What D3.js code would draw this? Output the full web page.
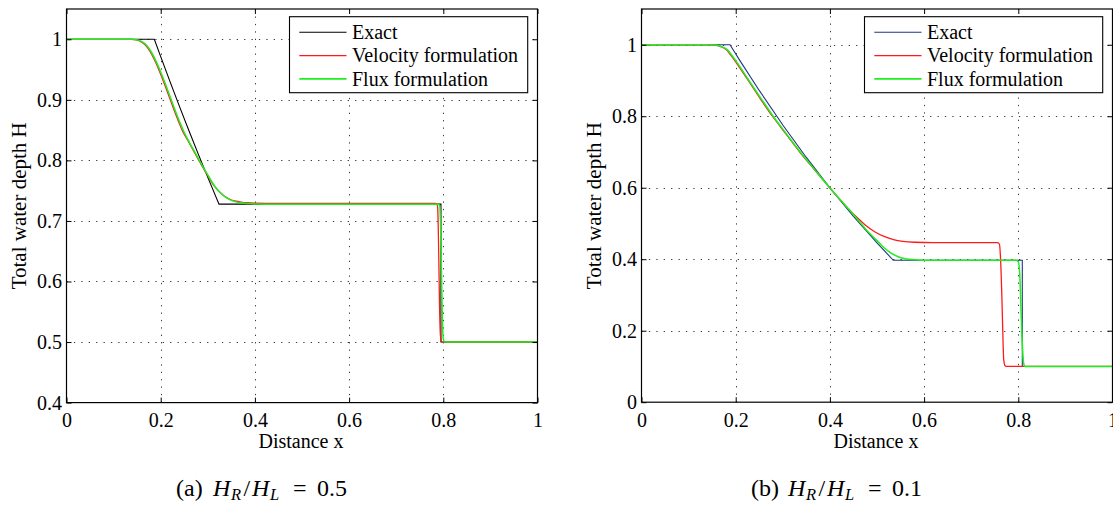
<!DOCTYPE html>
<html>
<head>
<meta charset="utf-8">
<script src="https://cdn.jsdelivr.net/npm/d3@7"></script>
<style>
  html, body { margin: 0; padding: 0; background: #fff; }
  svg { display: block; }
  text { font-family: "Liberation Serif", "Times New Roman", serif; fill: #000; }
</style>
</head>
<body>
<svg id="chart" width="1113" height="505"></svg>
<script>
// ---- data -------------------------------------------------------------
const seriesNames = ["Exact", "Velocity formulation", "Flux formulation"];

const xTicks = [0, 0.2, 0.4, 0.6, 0.8, 1];
const xTickLabels = ["0", "0.2", "0.4", "0.6", "0.8", "1"];

const yTicksA = [0.4, 0.5, 0.6, 0.7, 0.8, 0.9, 1];
const yTickLabelsA = ["0.4", "0.5", "0.6", "0.7", "0.8", "0.9", "1"];
const yTicksB = [0, 0.2, 0.4, 0.6, 0.8, 1];
const yTickLabelsB = ["0", "0.2", "0.4", "0.6", "0.8", "1"];

const xLabel = "Distance x";
const yLabel = "Total water depth H";

const captionTags = ["(a)", "(b)"];
const captionRatios = ["0.5", "0.1"];

// (a) H_R/H_L = 0.5 : [x, H]
const exactA = [
  [0, 1], [0.1865, 1], [0.20, 0.9713], [0.22, 0.9296], [0.24, 0.8888],
  [0.26, 0.8489], [0.28, 0.8099], [0.30, 0.7719], [0.3238, 0.7278],
  [0.795, 0.7278], [0.795, 0.5], [1, 0.5]
];
const velocityA = [
  [0, 1], [0.138, 1], [0.148, 0.999], [0.158, 0.996], [0.168, 0.990],
  [0.178, 0.979], [0.188, 0.964], [0.198, 0.946], [0.208, 0.926],
  [0.218, 0.905], [0.228, 0.884], [0.238, 0.864], [0.248, 0.846],
  [0.259, 0.831], [0.269, 0.817], [0.279, 0.803], [0.289, 0.789],
  [0.299, 0.776], [0.309, 0.763], [0.319, 0.753], [0.329, 0.745],
  [0.339, 0.739], [0.349, 0.735], [0.36, 0.7325], [0.37, 0.7312],
  [0.385, 0.730], [0.40, 0.7295], [0.45, 0.729], [0.782, 0.729],
  [0.786, 0.7285], [0.788, 0.722], [0.790, 0.66], [0.792, 0.56],
  [0.794, 0.51], [0.797, 0.5], [1, 0.5]
];
const fluxA = [
  [0, 1], [0.140, 1], [0.150, 0.999], [0.160, 0.996], [0.170, 0.990],
  [0.180, 0.979], [0.190, 0.964], [0.200, 0.946], [0.210, 0.926],
  [0.220, 0.905], [0.230, 0.884], [0.240, 0.864], [0.250, 0.846],
  [0.260, 0.831], [0.270, 0.817], [0.280, 0.803], [0.290, 0.789],
  [0.300, 0.776], [0.310, 0.763], [0.320, 0.752], [0.330, 0.744],
  [0.340, 0.738], [0.350, 0.734], [0.360, 0.7315], [0.370, 0.730],
  [0.385, 0.7288], [0.400, 0.728], [0.450, 0.7275], [0.788, 0.7275],
  [0.792, 0.726], [0.794, 0.70], [0.796, 0.62], [0.798, 0.54],
  [0.800, 0.505], [0.803, 0.5], [1, 0.5]
];

// (b) H_R/H_L = 0.1 : [x, H]
const exactB = [
  [0, 1], [0.1879, 1], [0.21, 0.9535], [0.25, 0.8722], [0.30, 0.7756],
  [0.35, 0.6847], [0.40, 0.5995], [0.45, 0.5199], [0.50, 0.4460],
  [0.5346, 0.397], [0.8085, 0.397], [0.8085, 0.1], [1, 0.1]
];
const velocityB = [
  [0, 1], [0.140, 1], [0.155, 0.999], [0.168, 0.995], [0.181, 0.985],
  [0.190, 0.970], [0.201, 0.950], [0.2265, 0.900], [0.2517, 0.850],
  [0.278, 0.800], [0.307, 0.750], [0.336, 0.700], [0.3675, 0.650],
  [0.3995, 0.600], [0.433, 0.550], [0.455, 0.520], [0.475, 0.496],
  [0.495, 0.477], [0.515, 0.464], [0.535, 0.455], [0.555, 0.450],
  [0.580, 0.4475], [0.620, 0.4465], [0.756, 0.4465], [0.760, 0.442],
  [0.762, 0.41], [0.765, 0.30], [0.767, 0.20], [0.769, 0.12],
  [0.772, 0.102], [0.776, 0.1], [1, 0.1]
];
const fluxB = [
  [0, 1], [0.140, 1], [0.155, 0.999], [0.169, 0.995], [0.183, 0.985],
  [0.192, 0.970], [0.203, 0.950], [0.228, 0.900], [0.2535, 0.850],
  [0.2795, 0.800], [0.308, 0.750], [0.337, 0.700], [0.368, 0.650],
  [0.3995, 0.600], [0.433, 0.550], [0.466, 0.500], [0.480, 0.478],
  [0.500, 0.452], [0.515, 0.432], [0.530, 0.417], [0.545, 0.407],
  [0.560, 0.401], [0.580, 0.3985], [0.610, 0.397], [0.795, 0.397],
  [0.800, 0.393], [0.803, 0.36], [0.806, 0.25], [0.809, 0.15],
  [0.812, 0.105], [0.815, 0.1], [1, 0.1]
];

// ---- styling ----------------------------------------------------------
const lineColors = {
  exactA: "#000000",
  exactB: "#1f3580",
  velocity: "#ff1a1a",
  flux: "#1fee1f"
};
const FONT = 20;
const SERIF = '"Liberation Serif", "Times New Roman", serif';

const svg = d3.select("#chart");

const panels = [
  {
    left: 66.5, right: 537.5, top: 9, bottom: 402.6,
    yDomain: [0.4, 1.05], yTicks: yTicksA, yTickLabels: yTickLabelsA,
    exact: exactA, velocity: velocityA, flux: fluxA, exactColor: lineColors.exactA,
    caption: { x: 275, tag: captionTags[0], ratio: captionRatios[0] },
    legend: { left: 289.5, right: 527.7, top: 16.7, bottom: 92.7 }
  },
  {
    left: 641.5, right: 1112.5, top: 9, bottom: 402.2,
    yDomain: [0, 1.1], yTicks: yTicksB, yTickLabels: yTickLabelsB,
    exact: exactB, velocity: velocityB, flux: fluxB, exactColor: lineColors.exactB,
    caption: { x: 850, tag: captionTags[1], ratio: captionRatios[1] },
    legend: { left: 864.5, right: 1102.7, top: 16.7, bottom: 92.7 }
  }
];

panels.forEach((p, idx) => {
  const x = d3.scaleLinear().domain([0, 1]).range([p.left, p.right]);
  const y = d3.scaleLinear().domain(p.yDomain).range([p.bottom, p.top]);
  const g = svg.append("g");

  // dotted grid at interior ticks
  const grid = g.append("g")
    .attr("stroke", "#3a3a3a").attr("stroke-width", 1)
    .attr("stroke-dasharray", "1.3,6.1").attr("fill", "none");
  xTicks.filter(t => t > 0 && t < 1).forEach(t => {
    grid.append("line")
      .attr("x1", Math.round(x(t)) + 0.5).attr("x2", Math.round(x(t)) + 0.5)
      .attr("y1", y.range()[0]).attr("y2", y.range()[1]);
  });
  p.yTicks.filter(t => y(t) > p.top + 1 && y(t) < p.bottom - 1).forEach(t => {
    grid.append("line")
      .attr("y1", Math.round(y(t)) + 0.5).attr("y2", Math.round(y(t)) + 0.5)
      .attr("x1", p.left).attr("x2", p.right);
  });

  // clipped series
  const clipId = "clip" + idx;
  svg.append("clipPath").attr("id", clipId).append("rect")
    .attr("x", p.left).attr("y", p.top)
    .attr("width", p.right - p.left).attr("height", p.bottom - p.top);
  const plot = g.append("g").attr("clip-path", `url(#${clipId})`).attr("fill", "none");

  const straight = d3.line().x(d => x(d[0])).y(d => y(d[1]));
  const smooth = d3.line().x(d => x(d[0])).y(d => y(d[1])).curve(d3.curveMonotoneX);

  plot.append("path").datum(p.exact).attr("d", straight)
    .attr("stroke", p.exactColor).attr("stroke-width", 1.1);
  plot.append("path").datum(p.velocity).attr("d", smooth)
    .attr("stroke", lineColors.velocity).attr("stroke-width", 1.3);
  plot.append("path").datum(p.flux).attr("d", smooth)
    .attr("stroke", lineColors.flux).attr("stroke-width", 1.5);

  // axes: labelled bottom/left, inward ticks on all four sides
  const axisBottom = d3.axisBottom(x).tickValues(xTicks)
    .tickFormat((d, i) => xTickLabels[i]).tickSizeInner(-5).tickSizeOuter(0).tickPadding(10.5);
  const axisLeft = d3.axisLeft(y).tickValues(p.yTicks)
    .tickFormat((d, i) => p.yTickLabels[i]).tickSizeInner(-5).tickSizeOuter(0).tickPadding(4.5);
  const axisTop = d3.axisTop(x).tickValues(xTicks).tickFormat("").tickSizeInner(-5).tickSizeOuter(0);
  const axisRight = d3.axisRight(y).tickValues(p.yTicks).tickFormat("").tickSizeInner(-5).tickSizeOuter(0);

  const styleAxis = sel => {
    sel.attr("font-family", null).attr("font-size", null);
    sel.select(".domain").remove();
    sel.selectAll("line").attr("stroke", "#000").attr("stroke-width", 1);
    sel.selectAll("text").style("font-family", SERIF)
      .style("font-size", FONT + "px").attr("fill", "#000");
  };
  g.append("g").attr("transform", `translate(0,${p.bottom})`).call(axisBottom).call(styleAxis);
  g.append("g").attr("transform", `translate(${p.left},0)`).call(axisLeft).call(styleAxis);
  g.append("g").attr("transform", `translate(0,${p.top})`).call(axisTop).call(styleAxis);
  g.append("g").attr("transform", `translate(${p.right},0)`).call(axisRight).call(styleAxis);

  // frame
  g.append("rect").attr("x", p.left).attr("y", p.top)
    .attr("width", p.right - p.left).attr("height", p.bottom - p.top)
    .attr("fill", "none").attr("stroke", "#000").attr("stroke-width", 1.2);

  // axis titles
  g.append("text").attr("x", (p.left + p.right) / 2 - 1).attr("y", 448)
    .attr("text-anchor", "middle").style("font-size", FONT + "px").text(xLabel);
  g.append("text")
    .attr("transform", `translate(${p.left - 41},${(p.top + p.bottom) / 2}) rotate(-90)`)
    .attr("text-anchor", "middle").style("font-size", "21px").text(yLabel);

  // legend
  const L = p.legend;
  const lg = g.append("g");
  lg.append("rect").attr("x", L.left).attr("y", L.top)
    .attr("width", L.right - L.left).attr("height", L.bottom - L.top)
    .attr("fill", "#fff").attr("stroke", "#000").attr("stroke-width", 1.1);
  const legendColors = [p.exactColor, lineColors.velocity, lineColors.flux];
  const legendWidths = [1.1, 1.3, 1.8];
  seriesNames.forEach((name, i) => {
    const cy = L.top + 15.6 + i * 23.3;
    lg.append("line").attr("x1", L.left + 9.8).attr("x2", L.left + 57)
      .attr("y1", cy).attr("y2", cy)
      .attr("stroke", legendColors[i]).attr("stroke-width", legendWidths[i]);
    lg.append("text").attr("x", L.left + 62.5).attr("y", cy + 6.6)
      .style("font-size", FONT + "px").text(name);
  });

  // caption: (a) H_R/H_L = 0.5, pieces laid out from the caption centre
  const C = p.caption;
  const cap = g.append("text").attr("y", 495.5).style("font-size", "24px");
  const piece = (dx, str, opts = {}) => {
    const t = cap.append("tspan").attr("x", C.x + dx).attr("y", 495.5 + (opts.sub ? 4.5 : 0)).text(str);
    if (opts.italic) t.style("font-style", "italic");
    if (opts.sub) t.style("font-size", "16.5px");
    return t;
  };
  piece(-99, C.tag);
  piece(-62, "H", { italic: true });
  piece(-44, "R", { italic: true, sub: true });
  piece(-31.5, "/");
  piece(-23, "H", { italic: true });
  piece(-5, "L", { italic: true, sub: true });
  piece(18, "=");
  piece(42, C.ratio);
});
</script>
</body>
</html>
